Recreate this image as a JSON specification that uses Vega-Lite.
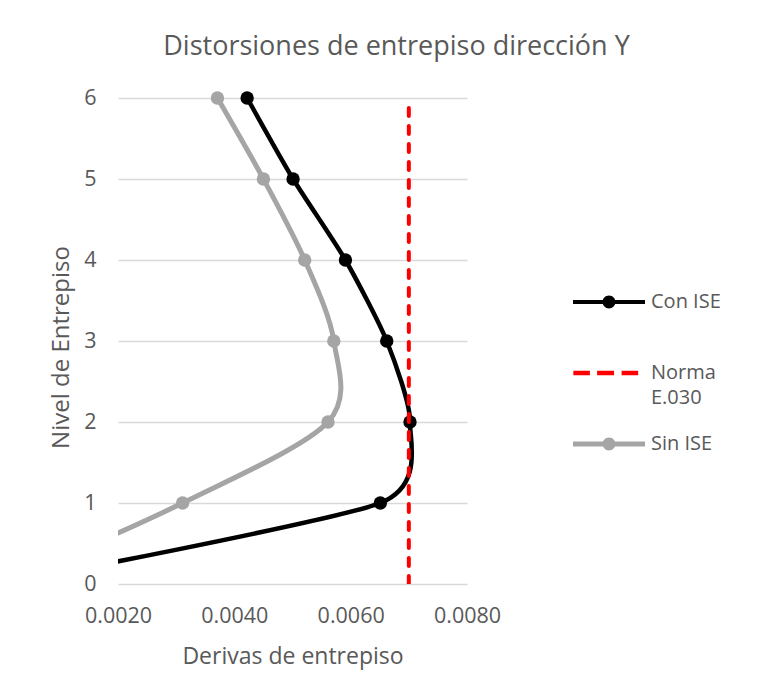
{
  "$schema": "https://vega.github.io/schema/vega-lite/v6.json",
  "width": 349,
  "height": 486,
  "autosize": {"type": "none"},
  "padding": {"left": 118, "top": 98, "right": 294, "bottom": 91},
  "background": "white",
  "config": {
    "font": "Open Sans",
    "view": {"stroke": null},
    "axis": {
      "labelFontSize": 21.5,
      "titleFontSize": 23,
      "labelColor": "#595959",
      "titleColor": "#595959",
      "titleFontWeight": "normal",
      "labelFont": "Open Sans",
      "titleFont": "Open Sans",
      "gridColor": "#d9d9d9",
      "gridWidth": 1.5,
      "domain": false,
      "ticks": false,
      "labelFlush": false
    }
  },
  "title": {
    "text": "Distorsiones de entrepiso dirección Y",
    "fontSize": 27,
    "font": "Open Sans",
    "fontWeight": "normal",
    "color": "#595959",
    "anchor": "middle",
    "frame": "group",
    "dx": 104,
    "offset": 26
  },
  "data": {
    "values": [
      {"serie": "Con ISE", "nivel": 0, "deriva": 0},
      {"serie": "Con ISE", "nivel": 1, "deriva": 0.00651},
      {"serie": "Con ISE", "nivel": 2, "deriva": 0.00702},
      {"serie": "Con ISE", "nivel": 3, "deriva": 0.00662},
      {"serie": "Con ISE", "nivel": 4, "deriva": 0.00591},
      {"serie": "Con ISE", "nivel": 5, "deriva": 0.00501},
      {"serie": "Con ISE", "nivel": 6, "deriva": 0.00422},
      {"serie": "Sin ISE", "nivel": 0, "deriva": 0},
      {"serie": "Sin ISE", "nivel": 1, "deriva": 0.00311},
      {"serie": "Sin ISE", "nivel": 2, "deriva": 0.00561},
      {"serie": "Sin ISE", "nivel": 3, "deriva": 0.00571},
      {"serie": "Sin ISE", "nivel": 4, "deriva": 0.00521},
      {"serie": "Sin ISE", "nivel": 5, "deriva": 0.00450},
      {"serie": "Sin ISE", "nivel": 6, "deriva": 0.00371},
      {"serie": "Norma E.030", "nivel": 0, "deriva": 0.007},
      {"serie": "Norma E.030", "nivel": 6, "deriva": 0.007}
    ]
  },
  "encoding": {
    "x": {
      "field": "deriva",
      "type": "quantitative",
      "scale": {"domain": [0.002, 0.008], "nice": false, "zero": false},
      "axis": {
        "values": [0.002, 0.004, 0.006, 0.008],
        "format": ".4f",
        "grid": false,
        "labelPadding": 21,
        "title": "Derivas de entrepiso",
        "titlePadding": 19
      }
    },
    "y": {
      "field": "nivel",
      "type": "quantitative",
      "scale": {"domain": [0, 6], "nice": false},
      "axis": {
        "values": [0, 1, 2, 3, 4, 5, 6],
        "grid": true,
        "labelPadding": 22,
        "title": "Nivel de Entrepiso",
        "titleFontSize": 24,
        "titlePadding": 10,
        "titleY": 249
      }
    }
  },
  "layer": [
    {
      "transform": [{"filter": "datum.serie == 'Sin ISE'"}],
      "mark": {"type": "line", "interpolate": "cardinal", "tension": 0.1, "clip": true, "strokeWidth": 5, "color": "#a5a5a5"},
      "encoding": {
        "order": {"field": "nivel", "type": "quantitative"}
      }
    },
    {
      "transform": [{"filter": "datum.serie == 'Con ISE'"}],
      "mark": {"type": "line", "interpolate": "cardinal", "tension": 0.35, "clip": true, "strokeWidth": 4.5, "color": "#000000"},
      "encoding": {
        "order": {"field": "nivel", "type": "quantitative"}
      }
    },
    {
      "transform": [{"filter": "datum.serie == 'Sin ISE' && datum.nivel > 0"}],
      "mark": {"type": "point", "filled": true, "opacity": 1, "size": 180, "color": "#a5a5a5"},
      "encoding": {}
    },
    {
      "transform": [{"filter": "datum.serie == 'Con ISE' && datum.nivel > 0"}],
      "mark": {"type": "point", "filled": true, "opacity": 1, "size": 180, "color": "#000000"},
      "encoding": {}
    },
    {
      "transform": [{"filter": "datum.serie == 'Norma E.030'"}],
      "mark": {"type": "line", "strokeWidth": 4, "strokeDash": [8, 10], "strokeCap": "round", "clip": true, "color": "#ff0000"},
      "encoding": {
        "order": {"field": "nivel", "type": "quantitative"}
      }
    },
    {
      "transform": [{"filter": "datum.serie == 'Norma E.030'"}],
      "mark": {"type": "point", "filled": true, "opacity": 0, "strokeWidth": 0},
      "encoding": {
        "color": {
          "field": "serie",
          "type": "nominal",
          "scale": {"domain": ["Con ISE", "Norma E.030", "Sin ISE"], "range": ["#000000", "#ff0000", "#a5a5a5"]},
          "legend": {
            "title": null,
            "orient": "none",
            "legendX": 455,
            "legendY": 168,
            "symbolSize": 5184,
            "symbolStrokeWidth": 0,
            "symbolOpacity": 1,
            "labelFontSize": 20,
            "labelColor": "#595959",
            "labelFont": "Open Sans",
            "labelOffset": 6,
            "rowPadding": -2,
            "padding": 0,
            "labelLimit": 200,
            "labelExpr": "datum.label == 'Norma E.030' ? ['Norma', 'E.030'] : [datum.label, '']",
            "encode": {
              "labels": {"update": {"lineHeight": {"value": 25}}},
              "symbols": {"update": {"opacity": {"value": 1}, "fillOpacity": {"value": 1}}}
            }
          }
        },
        "shape": {
          "field": "serie",
          "type": "nominal",
          "scale": {
            "domain": ["Con ISE", "Norma E.030", "Sin ISE"],
            "range": [
              "M-1,-0.056H1V0.056H-1Z M0.18,0A0.18,0.18,0,1,1,-0.18,0A0.18,0.18,0,1,1,0.18,0Z",
              "M-0.99,-0.06H-0.53V0.06H-0.99Z M-0.33,-0.06H0.14V0.06H-0.33Z M0.35,-0.06H0.81V0.06H0.35Z",
              "M-1,-0.07H1V0.07H-1Z M0.18,0A0.18,0.18,0,1,1,-0.18,0A0.18,0.18,0,1,1,0.18,0Z"
            ]
          },
          "legend": {
            "title": null,
            "orient": "none",
            "legendX": 455,
            "legendY": 168,
            "symbolSize": 5184,
            "symbolStrokeWidth": 0,
            "symbolOpacity": 1,
            "labelFontSize": 20,
            "labelColor": "#595959",
            "labelFont": "Open Sans",
            "labelOffset": 6,
            "rowPadding": -2,
            "padding": 0,
            "labelLimit": 200,
            "labelExpr": "datum.label == 'Norma E.030' ? ['Norma', 'E.030'] : [datum.label, '']",
            "encode": {
              "labels": {"update": {"lineHeight": {"value": 25}}},
              "symbols": {"update": {"opacity": {"value": 1}, "fillOpacity": {"value": 1}}}
            }
          }
        }
      }
    }
  ]
}
